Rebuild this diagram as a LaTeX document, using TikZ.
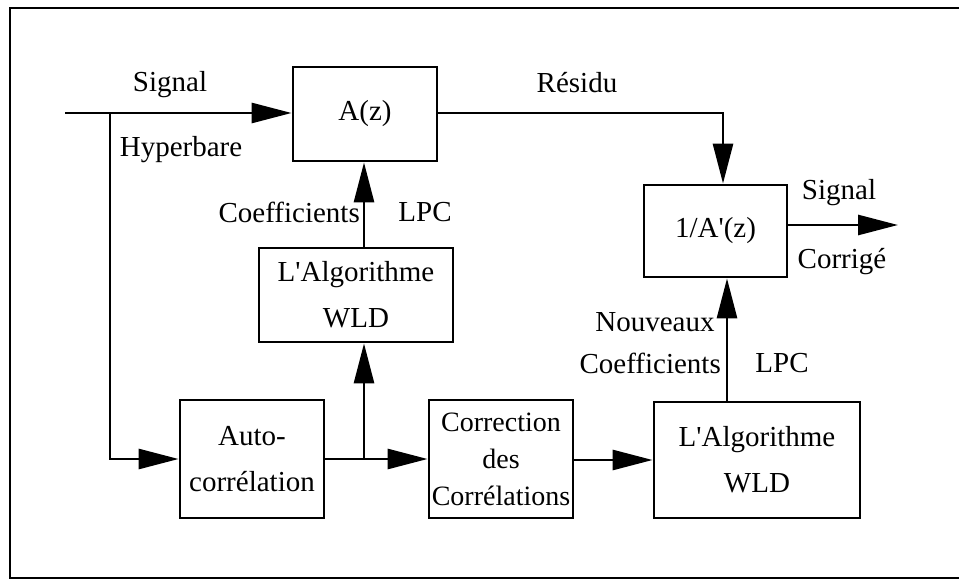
\documentclass[tikz,border=0pt]{standalone}
\usepackage{fontspec}
\setmainfont{Liberation Serif}
\usetikzlibrary{arrows.meta,calc}
\begin{document}
\begin{tikzpicture}[x=1pt,y=-1pt,
  every node/.style={font=\fontsize{29}{46}\selectfont},
  blk/.style={draw,line width=2.8pt,inner sep=0pt,align=center},
  lbl/.style={inner sep=0pt},
  wire/.style={line width=2.8pt},
  arr/.style={wire,-{Triangle[length=40pt,width=20pt]}}]
\useasboundingbox (0,0) rectangle (959,580);
\draw[line width=2pt] (959,8) -- (10,8) -- (10,578) -- (959,578);
% blocks
\node[blk,minimum width=144pt,minimum height=94pt] (A) at (365,114) {A(z)};
\node[blk,minimum width=194pt,minimum height=94pt] (W1) at (356,295) {L\textquotesingle Algorithme\\WLD};
\node[blk,minimum width=144pt,minimum height=118pt] (AC) at (252,459) {Auto-\\corrélation};
\node[blk,minimum width=144pt,minimum height=118pt,font=\fontsize{28}{37}\selectfont] (CC) at (501,459) {Correction\\des\\Corrélations};
\node[blk,minimum width=206pt,minimum height=116pt] (W2) at (757,460) {L\textquotesingle Algorithme\\WLD};
\node[blk,minimum width=143pt,minimum height=92pt] (IA) at (715.5,231) {1/A\textquotesingle(z)};
% coordinates
\coordinate (in) at (65,113);
\coordinate (br) at (110,113);
\coordinate (br2) at (364,459);
\coordinate (out) at (898,225);
% connectors
\draw[arr] (in) -- (in -| A.west);
\draw[arr] (br) |- (AC.west);
\draw[arr] (AC.east) -- (CC.west);
\draw[arr] (br2) -- (br2 |- W1.south);
\draw[arr] (W1.north -| br2) -- (A.south -| br2);
\draw[arr] (CC.east |- W2.west) -- (W2.west);
\draw[arr] (A.east |- in) -| (723,0 |- IA.north);
\draw[arr] (727,0 |- W2.north) -- (727,0 |- IA.south);
\draw[arr] (IA.east |- out) -- (out);
% labels
\node[lbl] (l1) at (170,85) {Signal};
\node[lbl] (l2) at (181,150) {Hyperbare};
\node[lbl,anchor=east] (l3) at (360,212) {Coefficients};
\node[lbl] (l4) at (425,212) {LPC};
\node[lbl] (l5) at (577,83) {Résidu};
\node[lbl] (l6) at (655,322) {Nouveaux};
\node[lbl,anchor=east] (l7) at (721,363) {Coefficients};
\node[lbl] (l8) at (782,363) {LPC};
\node[lbl] (l9) at (839,193) {Signal};
\node[lbl] (l10) at (842,262) {Corrigé};
\end{tikzpicture}
\end{document}
